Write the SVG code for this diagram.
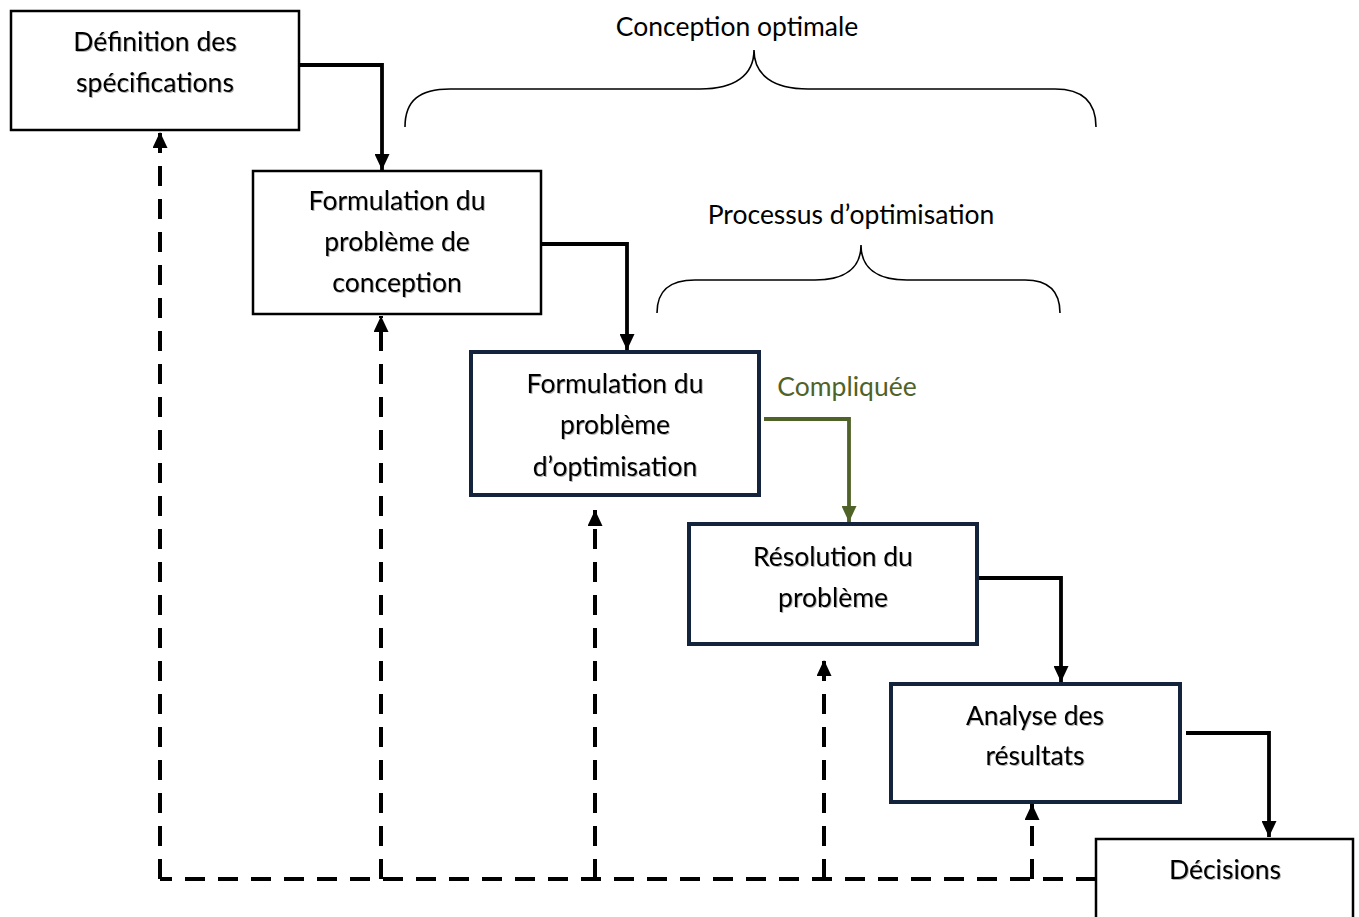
<svg xmlns="http://www.w3.org/2000/svg" width="1359" height="917" viewBox="0 0 1359 917">
  <style>
    .box { fill: #ffffff; stroke: #000000; stroke-width: 2.5; }
    .navy { fill: #ffffff; stroke: #14243c; stroke-width: 4; }
    .lbl { font-family: Lato, "Open Sans", sans-serif; font-size: 26.5px; fill: #000000; text-anchor: middle; }
    .cap { font-family: Lato, "Open Sans", sans-serif; font-size: 26.5px; fill: #000000; text-anchor: middle; }
    .flow { fill: none; stroke: #000000; stroke-width: 3.8; }
    .green { fill: none; stroke: #4f6228; stroke-width: 3.8; }
    .dash { fill: none; stroke: #000000; stroke-width: 4; stroke-dasharray: 20 13; }
    .brace { fill: none; stroke: #000000; stroke-width: 1.6; }
  </style>
  <defs>
    <marker id="ah" viewBox="0 0 16 15" refX="16" refY="7.5" markerWidth="16" markerHeight="15" markerUnits="userSpaceOnUse" orient="auto">
      <path d="M0,0 L16,7.5 L0,15 Z" fill="#000000"/>
    </marker>
    <marker id="ahg" viewBox="0 0 16 15" refX="16" refY="7.5" markerWidth="16" markerHeight="15" markerUnits="userSpaceOnUse" orient="auto">
      <path d="M0,0 L16,7.5 L0,15 Z" fill="#4f6228"/>
    </marker>
    <filter id="sh" x="-5%" y="-20%" width="110%" height="140%">
      <feDropShadow dx="1" dy="1" stdDeviation="0.6" flood-color="#000000" flood-opacity="0.3"/>
    </filter>
  </defs>

  <rect width="1359" height="917" fill="#ffffff"/>

  <!-- braces and their captions -->
  <g id="brace-conception">
    <path class="brace" d="M405,127 C405,100 420,89 450,89 L700,89 C735,89 754,75 754,50 C754,75 773,89 808,89 L1055,89 C1080,89 1096,100 1096,127"/>
    <text class="cap" x="737" y="36">Conception optimale</text>
  </g>
  <g id="brace-processus">
    <path class="brace" d="M657,313 C657,290 670,280 695,280 L815,280 C845,280 861,268 861,245 C861,268 877,280 907,280 L1025,280 C1048,280 1060,290 1060,313"/>
    <text class="cap" x="851" y="224">Processus d’optimisation</text>
  </g>

  <!-- connectors -->
  <g id="connectors">
    <polyline class="flow" points="299,65 382,65 382,170" marker-end="url(#ah)"/>
    <polyline class="flow" points="541,244 627,244 627,350" marker-end="url(#ah)"/>
    <polyline class="green" points="764,419 849,419 849,522" marker-end="url(#ahg)"/>
    <polyline class="flow" points="977,578 1061,578 1061,682" marker-end="url(#ah)"/>
    <polyline class="flow" points="1186,733 1269,733 1269,837" marker-end="url(#ah)"/>
    <text x="847" y="396" font-family="Lato, 'Open Sans', sans-serif" font-size="26.5" fill="#4f6228" text-anchor="middle">Compliquée</text>

    <!-- feedback loop -->
    <line class="dash" x1="1096" y1="879" x2="160" y2="879"/>
    <line class="dash" x1="160" y1="879" x2="160" y2="132" marker-end="url(#ah)"/>
    <line class="dash" x1="381" y1="879" x2="381" y2="316" marker-end="url(#ah)"/>
    <line class="dash" x1="595" y1="879" x2="595" y2="510" marker-end="url(#ah)"/>
    <line class="dash" x1="824" y1="879" x2="824" y2="660" marker-end="url(#ah)"/>
    <line class="dash" x1="1032" y1="879" x2="1032" y2="804" marker-end="url(#ah)"/>
  </g>

  <!-- nodes -->
  <g id="n-specifications">
    <rect class="box" x="11" y="11" width="288" height="119"/>
    <g filter="url(#sh)">
      <text class="lbl" x="155" y="51">Définition des</text>
      <text class="lbl" x="155" y="92">spécifications</text>
    </g>
  </g>
  <g id="n-formulation-conception">
    <rect class="box" x="253" y="171" width="288" height="143"/>
    <g filter="url(#sh)">
      <text class="lbl" x="397" y="210">Formulation du</text>
      <text class="lbl" x="397" y="251">problème de</text>
      <text class="lbl" x="397" y="292">conception</text>
    </g>
  </g>
  <g id="n-formulation-optimisation">
    <rect class="navy" x="471" y="352" width="288" height="143"/>
    <g filter="url(#sh)">
      <text class="lbl" x="615" y="393">Formulation du</text>
      <text class="lbl" x="615" y="434">problème</text>
      <text class="lbl" x="615" y="476">d’optimisation</text>
    </g>
  </g>
  <g id="n-resolution">
    <rect class="navy" x="689" y="524" width="288" height="120"/>
    <g filter="url(#sh)">
      <text class="lbl" x="833" y="566">Résolution du</text>
      <text class="lbl" x="833" y="607">problème</text>
    </g>
  </g>
  <g id="n-analyse">
    <rect class="navy" x="891" y="684" width="289" height="118"/>
    <g filter="url(#sh)">
      <text class="lbl" x="1035" y="725">Analyse des</text>
      <text class="lbl" x="1035" y="765">résultats</text>
    </g>
  </g>
  <g id="n-decisions">
    <rect class="box" x="1096" y="839" width="257" height="100"/>
    <g filter="url(#sh)">
      <text class="lbl" x="1225" y="879">Décisions</text>
    </g>
  </g>
</svg>
